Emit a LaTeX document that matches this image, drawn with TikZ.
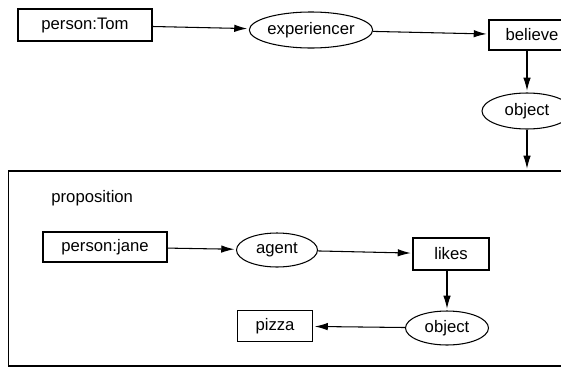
\documentclass[tikz,border=0pt]{standalone}
\usepackage{fontspec}
\setmainfont{Liberation Sans}
\usetikzlibrary{shapes.geometric,arrows.meta}

\tikzstyle{concept} = [draw, rectangle, inner sep=0pt]
\tikzstyle{relation} = [draw, ellipse, inner sep=0pt]
\tikzstyle{arrow}=[-{Latex[length=2.6mm,width=1.5mm]}, shorten >= 1pt]

\begin{document}
\begin{tikzpicture}[x=0.02cm, y=-0.02cm, font=\fontsize{9.5}{11}\selectfont, line width=0.6pt]
  \useasboundingbox (0,0) rectangle (561,379);
  \clip (0,0) rectangle (561,379);

  % outer graph
  \node[concept, minimum width=2.68cm, minimum height=0.64cm](tom) at (85,25) {person:Tom};
  \node[relation, minimum width=2.1cm, minimum height=0.72cm](exp) at (311,30) {experiencer};
  \node[concept, minimum width=1.72cm, minimum height=0.6cm](believe) at (532,35) {believe};
  \node[relation, minimum width=1.8cm, minimum height=0.72cm](obj1) at (527,111) {object};

  % the proposition
  \node[draw, minimum width=11.84cm, minimum height=3.9cm](prop) at (304,268.5) {};
  \node[anchor=west](proptext) at (45,198) {proposition};
  \node[concept, minimum width=2.48cm, minimum height=0.6cm](jane) at (105,247) {person:jane};
  \node[relation, minimum width=1.62cm, minimum height=0.68cm](agent) at (277,250) {agent};
  \node[concept, minimum width=1.52cm, minimum height=0.64cm](likes) at (451,254) {likes};
  \node[relation, minimum width=1.66cm, minimum height=0.68cm](obj2) at (447,328) {object};
  \node[concept, minimum width=1.5cm, minimum height=0.62cm](pizza) at (275,326) {pizza};

  \draw[arrow] (tom) to (exp);
  \draw[arrow] (exp) to (believe);
  \draw[arrow] (believe.south -| obj1) to (obj1);
  \draw[arrow] (obj1) to (obj1 |- prop.north);

  \draw[arrow] (jane) to (agent);
  \draw[arrow] (agent) to (likes);
  \draw[arrow] (likes.south -| obj2) to (obj2);
  \draw[arrow] (obj2) to (pizza);

\end{tikzpicture}
\end{document}
